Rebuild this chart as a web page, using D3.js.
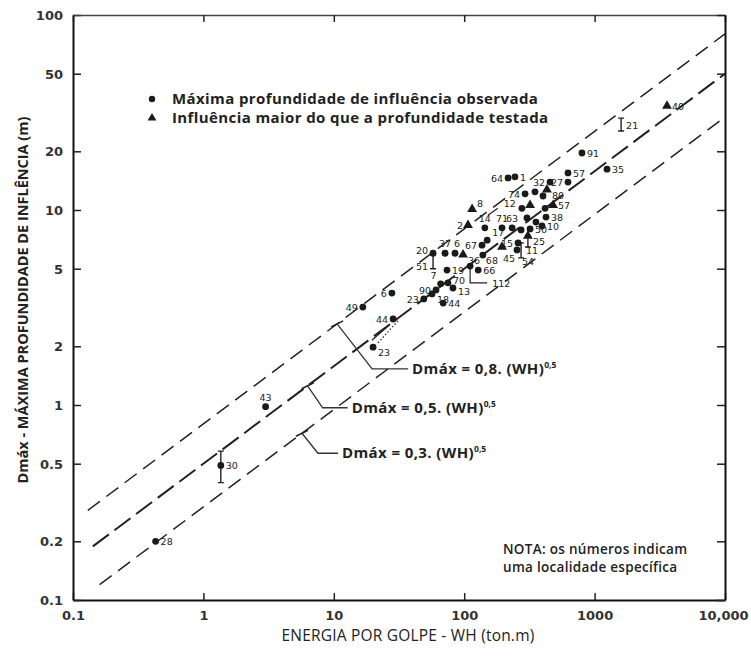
<!DOCTYPE html>
<html>
<head>
<meta charset="utf-8">
<script src="https://cdn.jsdelivr.net/npm/d3@7"></script>
<style>
body{margin:0;background:#fff;}
svg{display:block;}
.ptlabel{font-family:"DejaVu Sans",sans-serif;font-size:9.5px;fill:#222;}
.tick text{font-family:"DejaVu Sans",sans-serif;font-weight:bold;font-size:13px;fill:#333;}
.cap{font-family:"Open Sans",sans-serif;font-weight:600;fill:#222;}
</style>
</head>
<body>
<svg id="graph" width="751" height="662"></svg>
<script>
//axis ticks
var xTicks=[0.1,1,10,100,1000,10000]
var xTickLabels=["0.1","1","10","100","1000","10,000"]
var yTicks=[0.1,0.2,0.5,1,2,5,10,20,50,100]
var yTickLabels=["0.1","0.2","0.5","1","2","5","10","20","50","100"]

//observed depth (circles)
var circleLabels=["28","30","43","23","44","49","6","90","7","70","13","18","23","44","20","37","6","67","17","68","66","112","19","14","71","63","64","1","91","57","35","32","27","38","10","50","15","54","74","9","29","12","16","33","26","24"]
var circleX=[0.43,1.36,3.0,20,28.5,16.7,27.9,60.8,66,75,82,56.6,49,69,57.7,71.3,85,137,150,139,128,111,73.8,144,195,233,217,245,800,625,1245,455,625,424,395,320,259,254,293,349,402,277,303,355,273,417]
var circleY=[0.2,0.49,0.98,1.98,2.76,3.18,3.75,3.89,4.18,4.23,3.98,3.71,3.5,3.33,6.0,6.0,6.0,6.6,7.0,5.87,4.92,5.16,4.92,8.1,8.1,8.1,14.6,14.8,19.6,15.5,16.2,13.9,13.9,9.2,8.28,8.0,6.78,6.24,12.1,12.4,11.8,10.2,9.1,8.67,7.9,10.2]
var circleSide=["r","r","t","rb","l","l","l","l","tl","re","re2","rb","l","r","lu","t","tr","l","rt","rb2","r","n","r","t","t","t","l","r","r","r","r","l","l","r","r","r","l","br2","l","n","n","lu2","n","n","n","n"]

//influence deeper than tested depth (triangles)
var triLabels=["2","8","36","80","57","25","45","40","4"]
var triX=[107,115,98,431,480,308,195,3590,320]
var triY=[8.37,10.1,5.9,12.7,10.6,7.36,6.46,34.2,10.6]
var triSide=["l","rt2","rb","rb","r","n","br","r","n"]

//ranges (error bars)
var barLabels=["30","25","21","51","11"]
var barX=[1.36,308,1597,57.7,273]
var barLow=[0.40,6.46,25.4,5.0,5.68]
var barHigh=[0.58,7.36,29.6,5.9,6.78]
var barSide=["n","r","r","lb","r"]

//leader lines between points
var connectors=[
    [[111,5.16],[111,4.23],[150,4.23]],
    [[26.1,2.54],[19.6,2.15]],
    [[152,9.4],[181,10.2]]
]
var dottedLine=[[31,2.7],[21.8,2.08]]

//design lines Dmax = n.(WH)^0.5
var lineCoef=[0.8,0.5,0.3]
var lineStart=[0.13,0.142,0.16]
var lineEnd=[10000,10000,10000]
var lineText=["Dmáx = 0,8. (WH)","Dmáx = 0,5. (WH)","Dmáx = 0,3. (WH)"]
var lineAnnX=[10.6,6.3,5.7]

var screen={width:751,height:662}
var margins={left:73,right:26,top:15,bottom:62}

var xScale=d3.scaleLog()
    .domain([0.1,10000])
    .range([margins.left,screen.width-margins.right])
var yScale=d3.scaleLog()
    .domain([0.1,100])
    .range([screen.height-margins.bottom,margins.top])

var svg=d3.select("#graph")

//label placement
var sideOffset={
    r:[5,4,"start"], l:[-5,4,"end"], t:[0,-6,"middle"], b:[1,14,"middle"],
    rb:[5,9,"start"], rt:[5,-4,"start"], tl:[-4,-5,"end"], re:[5,1,"start"],
    lu:[-5,1,"end"], lb:[-5,8,"end"], tr:[-1,-6,"start"],
    rb2:[3,9,"start"], br:[1,15,"start"], rt2:[5,-2,"start"],
    br2:[5,15,"start"], re2:[5,7,"start"], lu2:[-6,-1,"end"]
}
var addLabel=function(g,x,y,text,side)
{
    if(side=="n"){return}
    var o=sideOffset[side]
    g.append("text")
        .attr("class","ptlabel")
        .attr("x",xScale(x)+o[0])
        .attr("y",yScale(y)+o[1])
        .attr("text-anchor",o[2])
        .text(text)
}

//axes
var drawAxes=function()
{
    var bottom=svg.append("g")
        .attr("transform","translate(0,"+yScale(0.1)+")")
        .call(d3.axisBottom(xScale).tickValues(xTicks)
            .tickFormat(function(d,i){return xTickLabels[i]})
            .tickSizeInner(-7).tickSizeOuter(0).tickPadding(11))
    var left=svg.append("g")
        .attr("transform","translate("+xScale(0.1)+",0)")
        .call(d3.axisLeft(yScale).tickValues(yTicks)
            .tickFormat(function(d,i){return yTickLabels[i]})
            .tickSizeInner(-8).tickSizeOuter(0).tickPadding(10))
    var top=svg.append("g")
        .attr("transform","translate(0,"+yScale(100)+")")
        .call(d3.axisTop(xScale).tickValues(xTicks).tickFormat("")
            .tickSizeInner(-7).tickSizeOuter(0))
    var right=svg.append("g")
        .attr("transform","translate("+xScale(10000)+",0)")
        .call(d3.axisRight(yScale).tickValues(yTicks).tickFormat("")
            .tickSizeInner(-8).tickSizeOuter(0))
    bottom.select(".domain").attr("stroke","#111").attr("stroke-width",2)
    left.select(".domain").attr("stroke","#111").attr("stroke-width",2)
    right.select(".domain").attr("stroke","#111").attr("stroke-width",2)
    top.select(".domain").attr("stroke","#444").attr("stroke-width",1.5)
    svg.selectAll(".tick line").attr("stroke","#222").attr("stroke-width",1.5)
    left.selectAll(".tick text").attr("dy","0.35em")
    //last x label sits on the corner
    bottom.selectAll(".tick text").filter(function(d){return d==10000})
        .attr("dx","-2")

    svg.append("text")
        .attr("class","cap")
        .attr("x",408)
        .attr("y",641)
        .attr("text-anchor","middle")
        .style("font-size","15.5px")
        .style("font-weight","500")
        .style("letter-spacing","0.2px")
        .text("ENERGIA POR GOLPE - WH (ton.m)")
    svg.append("text")
        .attr("class","cap")
        .attr("transform","translate(28,300) rotate(-90)")
        .attr("text-anchor","middle")
        .style("font-size","14.5px")
        .style("font-weight","700")
        .text("Dmáx - MÁXIMA PROFUNDIDADE DE INFLÊNCIA (m)")
}

//dashed design lines
var drawDesignLines=function()
{
    var line=d3.line()
        .x(function(d){return xScale(d[0])})
        .y(function(d){return yScale(d[1])})
    var dashes=["15,8","20,7","15,8"]
    var widths=[1.5,2,1.5]
    lineCoef.forEach(function(n,i)
    {
        var pts=[[lineStart[i],n*Math.sqrt(lineStart[i])],[lineEnd[i],n*Math.sqrt(lineEnd[i])]]
        svg.append("path")
            .attr("d",line(pts))
            .attr("fill","none")
            .attr("stroke","#222")
            .attr("stroke-width",widths[i])
            .attr("stroke-dasharray",dashes[i])
    })
    //annotation leaders
    var bends=[[35,45,36],[15,22,25],[16,20,20]]
    lineCoef.forEach(function(n,i)
    {
        var ax=xScale(lineAnnX[i])
        var ay=yScale(n*Math.sqrt(lineAnnX[i]))
        svg.append("path")
            .attr("d","M"+(ax-6)+","+(ay+3)+"L"+(ax+6)+","+(ay-3))
            .attr("stroke","#222").attr("stroke-width",1.5)
        svg.append("path")
            .attr("d","M"+ax+","+ay+"L"+(ax+bends[i][0])+","+(ay+bends[i][1])+"h"+bends[i][2])
            .attr("fill","none")
            .attr("stroke","#333").attr("stroke-width",1.3)
        var t=svg.append("text")
            .attr("class","cap")
            .attr("x",ax+bends[i][0]+bends[i][2]+4)
            .attr("y",ay+bends[i][1]+5)
            .style("font-size","15px")
            .style("font-weight","700")
            .style("letter-spacing","0.4px")
            .text(lineText[i])
        t.append("tspan")
            .attr("dy",-6)
            .style("font-size","8.5px")
            .style("letter-spacing","0")
            .text("0,5")
    }) 
}

//points, triangles and bars
var drawPoints=function()
{
    var g=svg.append("g")
    connectors.forEach(function(c)
    {
        g.append("path")
            .attr("d",d3.line().x(function(d){return xScale(d[0])}).y(function(d){return yScale(d[1])})(c))
            .attr("fill","none").attr("stroke","#222").attr("stroke-width",1.2)
    })
    g.append("path")
        .attr("d",d3.line().x(function(d){return xScale(d[0])}).y(function(d){return yScale(d[1])})(dottedLine))
        .attr("fill","none").attr("stroke","#222").attr("stroke-width",1.2)
        .attr("stroke-dasharray","1.5,2")
    addLabel(g,150,4.23,"112","r")

    barX.forEach(function(x,i)
    {
        var px=xScale(x)
        g.append("path")
            .attr("d","M"+px+","+yScale(barLow[i])+"V"+yScale(barHigh[i])
                +"M"+(px-3)+","+yScale(barLow[i])+"h6"
                +"M"+(px-3)+","+yScale(barHigh[i])+"h6")
            .attr("stroke","#222").attr("stroke-width",1.4)
        addLabel(g,x,Math.sqrt(barLow[i]*barHigh[i]),barLabels[i],barSide[i])
    })

    g.selectAll("circle")
        .data(circleX)
        .enter()
        .append("circle")
        .attr("cx",function(d){return xScale(d)})
        .attr("cy",function(d,i){return yScale(circleY[i])})
        .attr("r",3.4)
        .attr("fill","#1a1a1a")
    circleX.forEach(function(x,i){addLabel(g,x,circleY[i],circleLabels[i],circleSide[i])})

    var tri=d3.symbol().type(d3.symbolTriangle).size(42)
    g.selectAll(".tri")
        .data(triX)
        .enter()
        .append("path")
        .attr("class","tri")
        .attr("d",tri)
        .attr("transform",function(d,i){return "translate("+xScale(d)+","+yScale(triY[i])+")"})
        .attr("fill","#1a1a1a")
    triX.forEach(function(x,i){addLabel(g,x,triY[i],triLabels[i],triSide[i])})
}

//legend and note
var drawLegend=function()
{
    svg.append("circle").attr("cx",152).attr("cy",99).attr("r",3.2).attr("fill","#1a1a1a")
    svg.append("path")
        .attr("d",d3.symbol().type(d3.symbolTriangle).size(34))
        .attr("transform","translate(152,118)")
        .attr("fill","#1a1a1a")
    svg.append("text").attr("class","cap").attr("x",172).attr("y",104)
        .style("font-size","15px").style("font-weight","700").style("letter-spacing","0.4px")
        .text("Máxima profundidade de influência observada")
    svg.append("text").attr("class","cap").attr("x",172).attr("y",123)
        .style("font-size","15px").style("font-weight","700").style("letter-spacing","0.4px")
        .text("Influência maior do que a profundidade testada")
    svg.append("text").attr("class","cap").attr("x",503).attr("y",554)
        .style("font-size","13.5px").style("letter-spacing","0.3px")
        .text("NOTA: os números indicam")
    svg.append("text").attr("class","cap").attr("x",503).attr("y",572)
        .style("font-size","13.5px").style("letter-spacing","0.3px")
        .text("uma localidade específica")
}

drawDesignLines()
drawAxes()
drawPoints()
drawLegend()
</script>
</body>
</html>
